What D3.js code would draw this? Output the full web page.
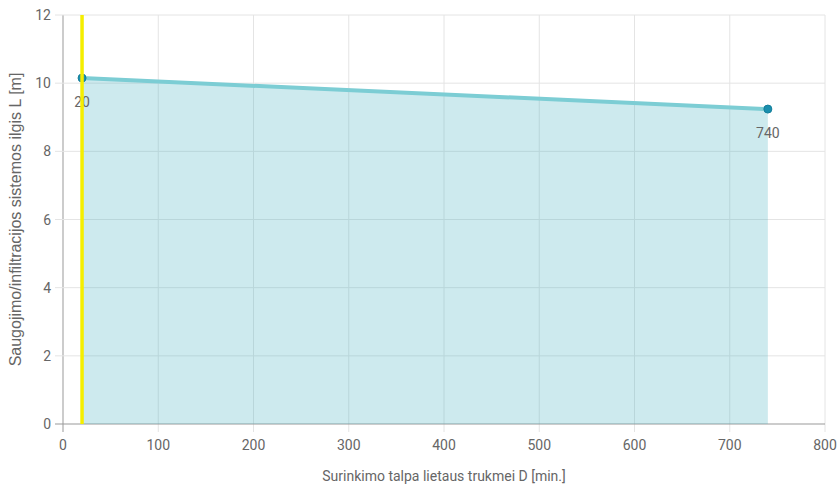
<!DOCTYPE html>
<html>
<head>
<meta charset="utf-8">
<script src="https://cdn.jsdelivr.net/npm/d3@7"></script>
<style>
  body { margin: 0; background: #fff; }
  svg { display: block; }
</style>
</head>
<body>
<div id="chart"></div>
<script>
// duomenys
const durations = [20, 740];
const lengths = [10.15, 9.24];
const markerX = 20;
const xTicks = [0, 100, 200, 300, 400, 500, 600, 700, 800];
const yTicks = [0, 2, 4, 6, 8, 10, 12];

const W = 838, H = 491;
const m = { top: 15, right: 13, bottom: 67, left: 63 };

const svg = d3.select("#chart").append("svg").attr("width", W).attr("height", H);

const x = d3.scaleLinear().domain([0, 800]).range([m.left, W - m.right]);
const y = d3.scaleLinear().domain([0, 12]).range([H - m.bottom, m.top]);

const grid = svg.append("g");
grid.selectAll(".gx")
  .data(xTicks)
  .enter()
  .append("line")
  .attr("x1", (d) => x(d)).attr("x2", (d) => x(d))
  .attr("y1", m.top).attr("y2", y(0) + 8)
  .attr("stroke", (d) => d === 0 ? "#999" : "#e4e4e4")
  .attr("stroke-width", 1);
grid.selectAll(".gy")
  .data(yTicks)
  .enter()
  .append("line")
  .attr("x1", m.left - 8).attr("x2", W - m.right)
  .attr("y1", (d) => y(d)).attr("y2", (d) => y(d))
  .attr("stroke", (d) => d === 0 ? "#999" : "#e4e4e4")
  .attr("stroke-width", 1);

const pts = durations.map((d, i) => ({ x: d, y: lengths[i] }));

// plotas po linija
svg.append("path")
  .datum(pts)
  .attr("d", d3.area().x((d) => x(d.x)).y0(y(0)).y1((d) => y(d.y)))
  .attr("fill", "rgba(75,180,195,0.28)");

svg.append("path")
  .datum(pts)
  .attr("d", d3.line().x((d) => x(d.x)).y((d) => y(d.y)))
  .attr("fill", "none")
  .attr("stroke", "#7ccdd4")
  .attr("stroke-width", 4);

svg.selectAll(".pt")
  .data(pts)
  .enter()
  .append("circle")
  .attr("cx", (d) => x(d.x))
  .attr("cy", (d) => y(d.y))
  .attr("r", 4)
  .attr("fill", "#1a8fae")
  .attr("stroke", "#137e9a")
  .attr("stroke-width", 1);

svg.selectAll(".lbl")
  .data(pts)
  .enter()
  .append("text")
  .attr("x", (d) => x(d.x))
  .attr("y", (d) => y(d.y) + 29)
  .attr("text-anchor", "middle")
  .attr("font-family", "Roboto, sans-serif")
  .attr("font-size", 14)
  .attr("fill", "#666")
  .text((d) => d.x);

// geltona vertikali linija (virs visko)
svg.append("line")
  .attr("x1", x(markerX)).attr("x2", x(markerX))
  .attr("y1", m.top).attr("y2", y(0))
  .attr("stroke", "#f5ee00")
  .attr("stroke-width", 3.5);

const tickFont = { family: "Roboto, sans-serif", size: 14, fill: "#666" };

svg.append("g").selectAll("text")
  .data(xTicks)
  .enter()
  .append("text")
  .attr("x", (d) => x(d))
  .attr("y", y(0) + 26)
  .attr("text-anchor", "middle")
  .attr("font-family", tickFont.family)
  .attr("font-size", tickFont.size)
  .attr("fill", tickFont.fill)
  .text((d) => d);

svg.append("g").selectAll("text")
  .data(yTicks)
  .enter()
  .append("text")
  .attr("x", m.left - 12)
  .attr("y", (d) => y(d) + 5)
  .attr("text-anchor", "end")
  .attr("font-family", tickFont.family)
  .attr("font-size", tickFont.size)
  .attr("fill", tickFont.fill)
  .text((d) => d);

svg.append("text")
  .attr("x", x(400))
  .attr("y", 481)
  .attr("text-anchor", "middle")
  .attr("font-family", "Roboto, sans-serif")
  .attr("font-size", 14)
  .attr("fill", "#666")
  .text("Surinkimo talpa lietaus trukmei D [min.]");

svg.append("text")
  .attr("transform", `translate(21,${y(6)}) rotate(-90)`)
  .attr("text-anchor", "middle")
  .attr("font-family", "Liberation Sans, Arial, sans-serif")
  .attr("font-size", 16)
  .attr("fill", "#666")
  .text("Saugojimo/infiltracijos sistemos ilgis L [m]");
</script>
</body>
</html>
